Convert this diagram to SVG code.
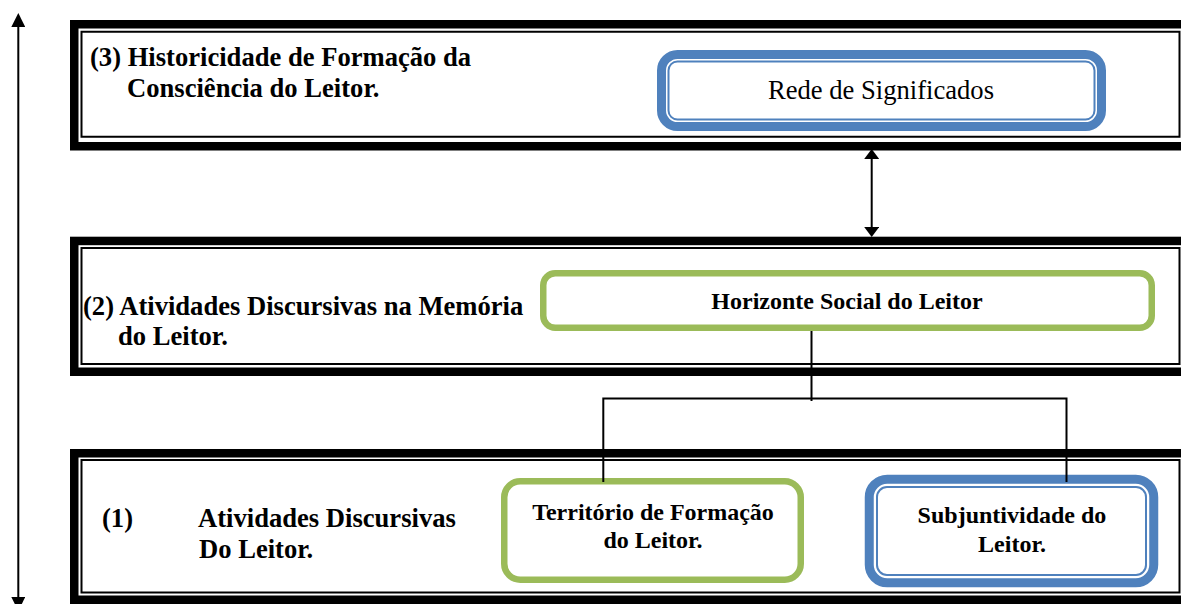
<svg xmlns="http://www.w3.org/2000/svg" width="1181" height="604" viewBox="0 0 1181 604">
<style>
  .frame-outer { fill: #fff; stroke: #000; stroke-width: 8.5; }
  .frame-inner { fill: none; stroke: #000; stroke-width: 2; }
  .lbl { font-family: "Liberation Serif", "Times New Roman", serif; font-weight: bold; font-size: 26.6px; fill: #000; }
  .in { font-family: "Liberation Serif", "Times New Roman", serif; font-weight: bold; font-size: 24px; fill: #000; text-anchor: middle; }
  .reg { font-family: "Liberation Serif", "Times New Roman", serif; font-size: 26.6px; fill: #000; text-anchor: middle; }
  .blue-thick { fill: #fff; stroke: #4F81BD; stroke-width: 9; }
  .blue-thin { fill: none; stroke: #4F81BD; stroke-width: 2; }
  .green { fill: #fff; stroke: #9BBB59; stroke-width: 6.5; }
  .conn { fill: none; stroke: #000; stroke-width: 2; }
</style>
<defs>
  <marker id="headL" viewBox="0 0 14 14" refX="0" refY="7" markerWidth="14" markerHeight="14" markerUnits="userSpaceOnUse" orient="auto-start-reverse">
    <path d="M0,0 L14,7 L0,14 z" fill="#000"/>
  </marker>
  <marker id="headS" viewBox="0 0 10 15" refX="0" refY="7.5" markerWidth="10" markerHeight="15" markerUnits="userSpaceOnUse" orient="auto-start-reverse">
    <path d="M0,0 L10,7.5 L0,15 z" fill="#000"/>
  </marker>
</defs>

<g id="level3">
  <rect class="frame-outer" x="74.25" y="24.25" width="1200" height="122"/>
  <rect class="frame-inner" x="81.5" y="31.75" width="1098" height="105"/>
  <text class="lbl" x="90" y="66">(3) Historicidade de Formação da</text>
  <text class="lbl" x="127" y="97">Consciência do Leitor.</text>
</g>

<g id="level2">
  <rect class="frame-outer" x="74.25" y="240.95" width="1200" height="130.8"/>
  <rect class="frame-inner" x="81.5" y="248" width="1098" height="116"/>
  <text class="lbl" x="83" y="315">(2) Atividades Discursivas na Memória</text>
  <text class="lbl" x="118" y="345">do Leitor.</text>
</g>

<g id="level1">
  <rect class="frame-outer" x="74.25" y="453.25" width="1200" height="146.5"/>
  <rect class="frame-inner" x="81.5" y="460" width="1098" height="132.5"/>
  <text class="lbl" x="102" y="527">(1)</text>
  <text class="lbl" x="198" y="527">Atividades Discursivas</text>
  <text class="lbl" x="199" y="558">Do Leitor.</text>
</g>

<g id="rede">
  <rect class="blue-thick" x="661.5" y="54.5" width="440" height="72" rx="16"/>
  <rect class="blue-thin" x="668.5" y="61.5" width="426" height="58" rx="9"/>
  <text class="reg" x="881" y="99">Rede de Significados</text>
</g>

<g id="horizonte">
  <rect class="green" x="543.25" y="273.25" width="608.5" height="54.5" rx="12"/>
  <text class="in" x="847" y="309">Horizonte Social do Leitor</text>
</g>

<g id="territorio">
  <rect class="green" x="504.25" y="481.25" width="296.5" height="98.5" rx="16"/>
  <text class="in" x="653" y="520">Território de Formação</text>
  <text class="in" x="653" y="548">do Leitor.</text>
</g>

<g id="subjuntividade">
  <rect class="blue-thick" x="869.25" y="479.25" width="284.5" height="103.5" rx="18"/>
  <rect class="blue-thin" x="877" y="487" width="269" height="88" rx="10"/>
  <text class="in" x="1012" y="523">Subjuntividade do</text>
  <text class="in" x="1012" y="552">Leitor.</text>
</g>

<g id="connectors">
  <line class="conn" x1="18.3" y1="27" x2="18.3" y2="597" marker-start="url(#headL)" marker-end="url(#headL)"/>
  <line class="conn" x1="871.7" y1="159" x2="871.7" y2="227" marker-start="url(#headS)" marker-end="url(#headS)"/>
  <path class="conn" d="M811.5,331 V401"/>
  <path class="conn" d="M603.3,482 V398.5 H1066.5 V482"/>
</g>
</svg>
